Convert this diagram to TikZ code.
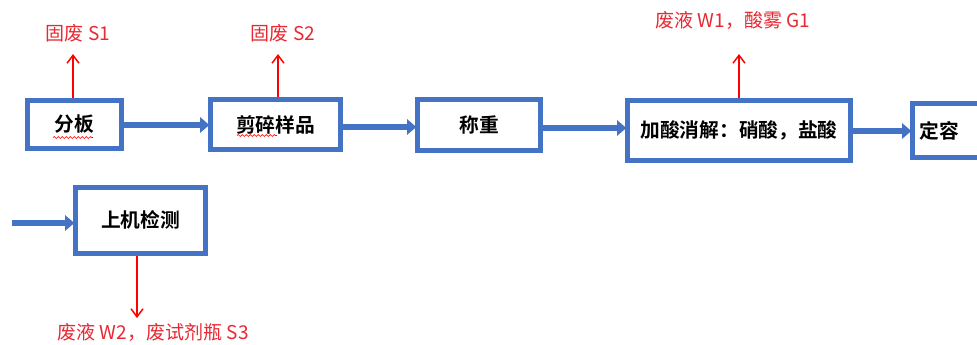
\documentclass[tikz,border=0pt]{standalone}
\usepackage{fontspec}
\newfontfamily\cjk{Noto Sans CJK SC}
\newfontfamily\cjkb{Noto Sans CJK SC Bold}
\usetikzlibrary{arrows.meta,decorations.pathmorphing}
\definecolor{boxblue}{RGB}{68,114,196}
\definecolor{lblred}{RGB}{232,40,50}
\begin{document}
\begin{tikzpicture}[x=0.75pt,y=-0.75pt,
  procbox/.style={draw=boxblue,line width=3.75pt,fill=white,inner sep=0pt,
    font=\cjkb\fontsize{14.8pt}{17pt}\selectfont,text=black},
  flow/.style={draw=boxblue,line width=4.5pt,-{Triangle[length=7pt,width=11.5pt]},shorten >=-1pt},
  outflow/.style={draw=red,line width=1.1pt,-{Straight Barb[length=6pt,width=9pt,line width=1.1pt]}},
  outlbl/.style={text=lblred,font=\cjk\fontsize{14.3pt}{16pt}\selectfont,inner sep=0pt},
  squig/.style={draw=red,line width=0.5pt,decorate,decoration={snake,amplitude=0.7pt,segment length=3pt}}]
\useasboundingbox (0,0) rectangle (977,344);
\clip (0,0) rectangle (977,344);
% boxes
\node[procbox,minimum width=94*0.75pt,minimum height=48*0.75pt] (b1) at (74.5,124) {分板};
\node[procbox,minimum width=130*0.75pt,minimum height=50*0.75pt] (b2) at (275.5,124.5) {剪碎样品};
\node[procbox,minimum width=123*0.75pt,minimum height=51*0.75pt] (b3) at (479,125) {称重};
\node[procbox,minimum width=223*0.75pt,minimum height=60*0.75pt] (b4) at (739,130.5) {加酸消解：硝酸，盐酸};
\node[procbox,minimum width=110*0.75pt,minimum height=54*0.75pt,text width=72pt,align=left,inner xsep=4.5pt] (b5) at (967.5,130.5) {定容};
\node[procbox,minimum width=130*0.75pt,minimum height=66*0.75pt] (b6) at (140.5,220.5) {\raisebox{2pt}{上机检测}};
% main flow
\draw[flow] (b1.east |- 0,125) -- (b2.west |- 0,125);
\draw[flow] (b2.east |- 0,127) -- (b3.west |- 0,127);
\draw[flow] (b3.east |- 0,128) -- (b4.west |- 0,128);
\draw[flow] (b4.east |- 0,131) -- (b5.west |- 0,131);
\coordinate (in6) at (12,223);
\draw[flow] (in6) -- (b6.west |- in6);
% outputs
\coordinate (s1tip) at (73,54);
\coordinate (s2tip) at (278,54);
\coordinate (w1tip) at (739,54);
\coordinate (w2tip) at (137,318);
\node[outlbl] (s1) at (78,33) {固废 S1};
\node[outlbl] (s2) at (283,33) {固废 S2};
\node[outlbl] (w1) at (733,20) {废液 W1，酸雾 G1};
\node[outlbl] (w2) at (153,332) {废液 W2，废试剂瓶 S3};
\draw[outflow] (b1.north -| s1tip) -- (s1tip);
\draw[outflow] (b2.north -| s2tip) -- (s2tip);
\draw[outflow] (b4.north -| w1tip) -- (w1tip);
\draw[outflow] (b6.south -| w2tip) -- (w2tip);
% spell-check squiggles
\draw[squig] (53,137.5) -- (93,137.5);
\draw[squig] (237,135.5) -- (277,135.5);
\end{tikzpicture}
\end{document}
